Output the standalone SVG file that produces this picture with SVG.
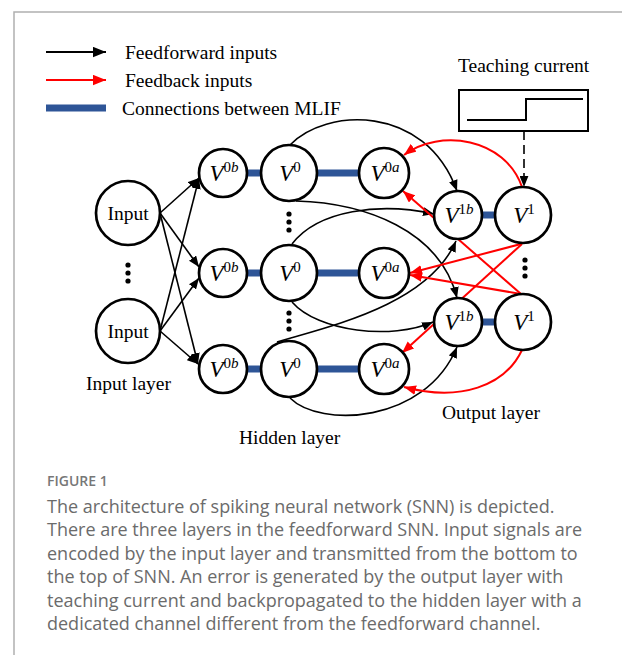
<svg xmlns="http://www.w3.org/2000/svg" width="622" height="655" viewBox="0 0 622 655">
  <defs>
    <marker id="ah-black" viewBox="0 0 10 8" refX="10" refY="4" markerWidth="11" markerHeight="9" markerUnits="userSpaceOnUse" orient="auto">
      <path d="M0,0 L10,4 L0,8 Z" fill="#000"/>
    </marker>
    <marker id="ah-red" viewBox="0 0 10 8" refX="10" refY="4" markerWidth="12" markerHeight="10" markerUnits="userSpaceOnUse" orient="auto">
      <path d="M0,0 L10,4 L0,8 Z" fill="#ff0000"/>
    </marker>
    <marker id="ah-black-lg" viewBox="0 0 10 8" refX="10" refY="4" markerWidth="13" markerHeight="11" markerUnits="userSpaceOnUse" orient="auto">
      <path d="M0,0 L10,4 L0,8 Z" fill="#000"/>
    </marker>
    <marker id="ah-red-lg" viewBox="0 0 10 8" refX="10" refY="4" markerWidth="13" markerHeight="11" markerUnits="userSpaceOnUse" orient="auto">
      <path d="M0,0 L10,4 L0,8 Z" fill="#ff0000"/>
    </marker>
    <style>
      .node { fill: #fff; stroke: #000; stroke-width: 2.7; }
      .ff { fill: none; stroke: #000; stroke-width: 1.6; marker-end: url(#ah-black); }
      .fb { fill: none; stroke: #ff0000; stroke-width: 2; marker-end: url(#ah-red); }
      .mlif { stroke: #2e5597; stroke-width: 7; }
      .serif { font-family: "Liberation Serif", "Times New Roman", serif; fill: #000; }
      .lbl { font-size: 19.5px; }
      .vname { font-size: 23px; font-style: italic; }
      .sup { font-size: 15px; }
      .up { font-style: normal; }
      .dot { fill: #000; }
      .cap { font-family: "Open Sans", "Noto Sans", sans-serif; fill: #6b6b6b; font-size: 18px; }
      .fig { font-family: "Open Sans", "Noto Sans", sans-serif; fill: #777; font-size: 14px; font-weight: 600; }
    </style>
  </defs>

  <!-- page frame -->
  <path d="M14,655 V12 H622" fill="none" stroke="#b0b0b0" stroke-width="1.5"/>

  <!-- legend -->
  <g id="legend">
    <path d="M46,52 H106" fill="none" stroke="#000" stroke-width="1.8" marker-end="url(#ah-black-lg)"/>
    <path d="M46,80 H106" fill="none" stroke="#ff0000" stroke-width="1.8" marker-end="url(#ah-red-lg)"/>
    <path d="M46,108 H106" class="mlif"/>
    <text x="125" y="59" class="serif lbl">Feedforward inputs</text>
    <text x="125" y="87" class="serif lbl">Feedback inputs</text>
    <text x="122" y="115" class="serif lbl">Connections between MLIF</text>
  </g>

  <!-- teaching current source -->
  <g id="teaching">
    <text x="458" y="72" class="serif lbl">Teaching current</text>
    <rect x="459" y="90" width="129" height="41" fill="#fff" stroke="#000" stroke-width="2"/>
    <path d="M467,120 H526 V99 H583" fill="none" stroke="#000" stroke-width="2"/>
  </g>

  <!-- MLIF coupling bars -->
  <g id="mlif-bars">
    <line x1="245" y1="173" x2="263" y2="173" class="mlif" stroke-width="6"/>
    <line x1="316" y1="173" x2="362" y2="173" class="mlif"/>
    <line x1="245" y1="273" x2="263" y2="273" class="mlif" stroke-width="6"/>
    <line x1="316" y1="273" x2="362" y2="273" class="mlif"/>
    <line x1="245" y1="369" x2="263" y2="369" class="mlif" stroke-width="6"/>
    <line x1="316" y1="369" x2="362" y2="369" class="mlif"/>
    <line x1="480" y1="215" x2="497" y2="215" class="mlif" stroke-width="6"/>
    <line x1="480" y1="322" x2="497" y2="322" class="mlif" stroke-width="6"/>
  </g>

  <!-- connectors -->
  <g id="connectors">
    <!-- input layer to V0b (all-to-all) -->
    <path d="M160,213 L199,178" class="ff"/>
    <path d="M160,213 L199,267" class="ff"/>
    <path d="M160,213 L198,364" class="ff"/>
    <path d="M160,331 L199,178" class="ff"/>
    <path d="M160,331 L199,278" class="ff"/>
    <path d="M160,331 L198,364" class="ff"/>

    <!-- hidden V0 to output V1b -->
    <path d="M290,145 C325,108 425,103 457,191" class="ff"/>
    <path d="M296,201 C365,203 440,230 457,298" class="ff"/>
    <path d="M292,244 C318,210 380,202 434,214" class="ff"/>
    <path d="M292,302 C318,332 392,340 433,322" class="ff"/>
    <path d="M277,342 C330,326 428,305 456,241" class="ff"/>
    <path d="M290,398 C320,428 425,424 457,347" class="ff"/>

    <!-- teaching current into V1 -->
    <path d="M524,131 V187" class="ff" stroke-dasharray="9,5"/>

    <!-- feedback from V1 to V0a -->
    <path d="M522,187 C505,138 440,128 404,155" class="fb"/>
    <path d="M521,244 L410,273" class="fb"/>
    <path d="M522,244 L402,353" class="fb"/>
    <path d="M521,294 L403,191" class="fb"/>
    <path d="M521,294 L410,275" class="fb"/>
    <path d="M522,350 C505,386 460,402 404,387" class="fb"/>
  </g>

  <!-- input layer -->
  <g id="input-1">
    <circle cx="128" cy="213" r="32" class="node"/>
    <text x="128" y="220" text-anchor="middle" class="serif lbl">Input</text>
  </g>
  <g id="input-2">
    <circle cx="128" cy="331" r="32" class="node"/>
    <text x="128" y="338" text-anchor="middle" class="serif lbl">Input</text>
  </g>

  <!-- hidden layer -->
  <g id="v0b-1">
    <circle cx="223" cy="173" r="24" class="node"/>
    <text x="224" y="181" text-anchor="middle" class="serif vname">V<tspan class="sup up" dy="-9">0</tspan><tspan class="sup">b</tspan></text>
  </g>
  <g id="v0-1">
    <circle cx="289" cy="173" r="28" class="node"/>
    <text x="290" y="181" text-anchor="middle" class="serif vname">V<tspan class="sup up" dy="-9">0</tspan></text>
  </g>
  <g id="v0a-1">
    <circle cx="384" cy="173" r="25" class="node"/>
    <text x="385" y="181" text-anchor="middle" class="serif vname">V<tspan class="sup up" dy="-9">0</tspan><tspan class="sup">a</tspan></text>
  </g>
  <g id="v0b-2">
    <circle cx="223" cy="273" r="24" class="node"/>
    <text x="224" y="281" text-anchor="middle" class="serif vname">V<tspan class="sup up" dy="-9">0</tspan><tspan class="sup">b</tspan></text>
  </g>
  <g id="v0-2">
    <circle cx="289" cy="273" r="28" class="node"/>
    <text x="290" y="281" text-anchor="middle" class="serif vname">V<tspan class="sup up" dy="-9">0</tspan></text>
  </g>
  <g id="v0a-2">
    <circle cx="384" cy="273" r="25" class="node"/>
    <text x="385" y="281" text-anchor="middle" class="serif vname">V<tspan class="sup up" dy="-9">0</tspan><tspan class="sup">a</tspan></text>
  </g>
  <g id="v0b-3">
    <circle cx="223" cy="369" r="24" class="node"/>
    <text x="224" y="377" text-anchor="middle" class="serif vname">V<tspan class="sup up" dy="-9">0</tspan><tspan class="sup">b</tspan></text>
  </g>
  <g id="v0-3">
    <circle cx="289" cy="369" r="28" class="node"/>
    <text x="290" y="377" text-anchor="middle" class="serif vname">V<tspan class="sup up" dy="-9">0</tspan></text>
  </g>
  <g id="v0a-3">
    <circle cx="384" cy="369" r="25" class="node"/>
    <text x="385" y="377" text-anchor="middle" class="serif vname">V<tspan class="sup up" dy="-9">0</tspan><tspan class="sup">a</tspan></text>
  </g>

  <!-- output layer -->
  <g id="v1b-1">
    <circle cx="458" cy="215" r="24" class="node"/>
    <text x="459" y="223" text-anchor="middle" class="serif vname">V<tspan class="sup up" dy="-9">1</tspan><tspan class="sup">b</tspan></text>
  </g>
  <g id="v1-1">
    <circle cx="523" cy="215" r="28" class="node"/>
    <text x="524" y="223" text-anchor="middle" class="serif vname">V<tspan class="sup up" dy="-9">1</tspan></text>
  </g>
  <g id="v1b-2">
    <circle cx="458" cy="322" r="24" class="node"/>
    <text x="459" y="330" text-anchor="middle" class="serif vname">V<tspan class="sup up" dy="-9">1</tspan><tspan class="sup">b</tspan></text>
  </g>
  <g id="v1-2">
    <circle cx="523" cy="322" r="28" class="node"/>
    <text x="524" y="330" text-anchor="middle" class="serif vname">V<tspan class="sup up" dy="-9">1</tspan></text>
  </g>

  <!-- vertical ellipses -->
  <g id="ellipses">
    <circle cx="128" cy="265" r="2.6" class="dot"/>
    <circle cx="128" cy="273" r="2.6" class="dot"/>
    <circle cx="128" cy="281" r="2.6" class="dot"/>
    <circle cx="289" cy="214" r="2.6" class="dot"/>
    <circle cx="289" cy="222" r="2.6" class="dot"/>
    <circle cx="289" cy="230" r="2.6" class="dot"/>
    <circle cx="289" cy="313" r="2.6" class="dot"/>
    <circle cx="289" cy="321" r="2.6" class="dot"/>
    <circle cx="289" cy="329" r="2.6" class="dot"/>
    <circle cx="525" cy="260" r="2.6" class="dot"/>
    <circle cx="525" cy="268" r="2.6" class="dot"/>
    <circle cx="525" cy="276" r="2.6" class="dot"/>
  </g>

  <!-- layer labels -->
  <g id="layer-labels">
    <text x="86" y="390" class="serif lbl">Input layer</text>
    <text x="239" y="444" class="serif lbl">Hidden layer</text>
    <text x="442" y="419" class="serif lbl">Output layer</text>
  </g>

  <!-- caption -->
  <g id="caption">
    <text x="47" y="486" class="fig">FIGURE 1</text>
    <text x="47" y="513" class="cap">The architecture of spiking neural network (SNN) is depicted.</text>
    <text x="47" y="536.4" class="cap">There are three layers in the feedforward SNN. Input signals are</text>
    <text x="47" y="559.8" class="cap">encoded by the input layer and transmitted from the bottom to</text>
    <text x="47" y="583.2" class="cap">the top of SNN. An error is generated by the output layer with</text>
    <text x="47" y="606.6" class="cap">teaching current and backpropagated to the hidden layer with a</text>
    <text x="47" y="630" class="cap">dedicated channel different from the feedforward channel.</text>
  </g>
</svg>
